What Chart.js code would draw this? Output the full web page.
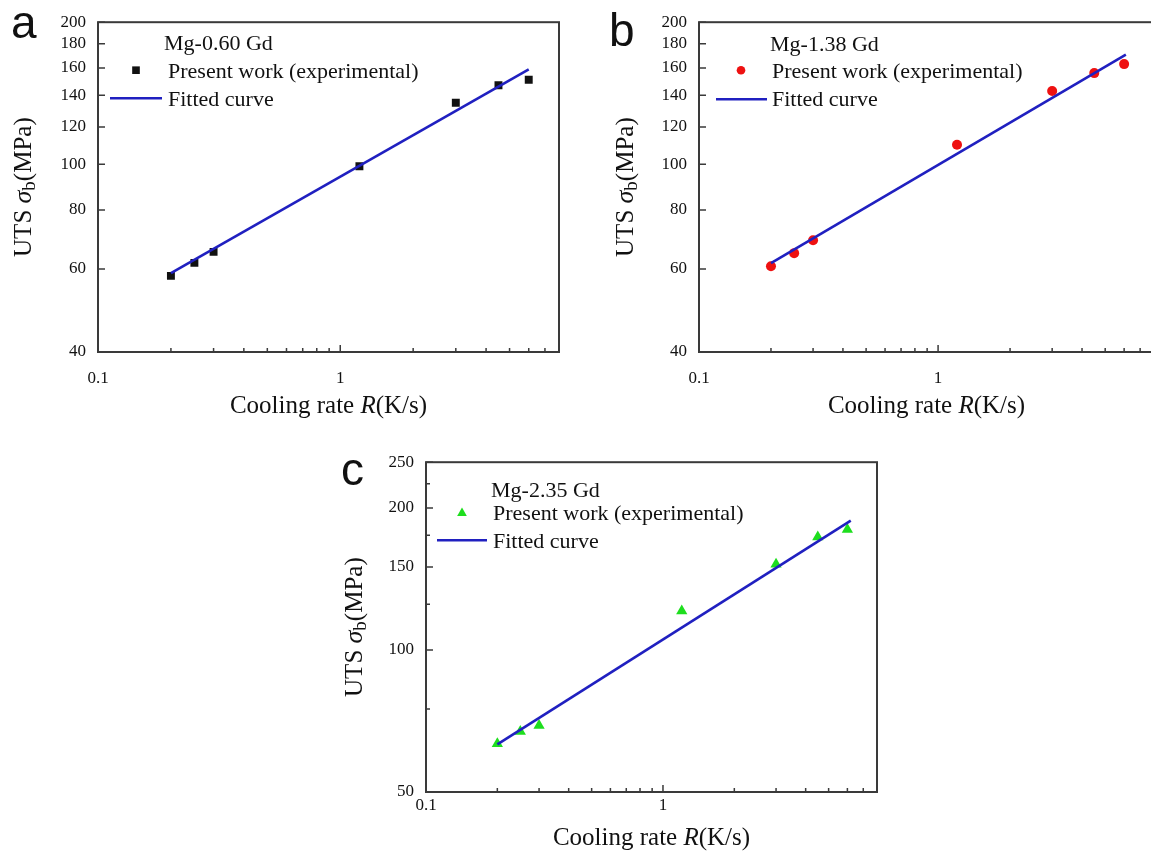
<!DOCTYPE html>
<html>
<head>
<meta charset="utf-8">
<script src="https://cdn.jsdelivr.net/npm/chart.js@4.4.1/dist/chart.umd.min.js"></script>
<style>
  html, body { margin: 0; padding: 0; background: #fff; overflow: hidden; }
  body { width: 1151px; height: 855px; position: relative; }
  canvas { position: absolute; }
</style>
</head>
<body>
<canvas id="chartA" width="575" height="425" style="left:0;top:0"></canvas>
<canvas id="chartB" width="570" height="425" style="left:600px;top:0"></canvas>
<canvas id="chartC" width="560" height="415" style="left:330px;top:440px"></canvas>
<script>
// cooling rates used for all three alloys (K/s)
const coolingRate = [0.2, 0.25, 0.3, 1.2, 3, 4.5, 6];

// measured UTS (MPa)
const utsGd060 = [58.0, 61.8, 65.2, 99.0, 135, 147, 151];
const utsGd138 = [60.8, 64.8, 69.0, 110, 143, 156, 163];
const utsGd235 = [63.3, 67.2, 69.2, 121, 152, 173.5, 180];

// fitted lines (end points)
const fitRateGd060 = [0.2, 6.0];
const fitUtsGd060 = [58.8, 158.8];
const fitRateGd138 = [0.2, 6.1];
const fitUtsGd138 = [61.7, 170.8];
const fitRateGd235 = [0.2, 6.2];
const fitUtsGd235 = [63.1, 188];

// axis ticks
const rateTicks = [0.1, 0.2, 0.3, 0.4, 0.5, 0.6, 0.7, 0.8, 0.9, 1, 2, 3, 4, 5, 6, 7, 8];
const rateLabels = [0.1, 1];
const utsTicksAB = [40, 60, 80, 100, 120, 140, 160, 180, 200];
const utsTicksC = [50, 75, 100, 125, 150, 175, 200, 225, 250];
const utsLabelsC = [50, 100, 150, 200, 250];

const SERIF = '"Liberation Serif", "Times New Roman", serif';
const SANS = '"Liberation Sans", Arial, sans-serif';
const TXT = '#111111';
const AXIS = '#3a3a3a';
const BLUE = '#2020c0';

function drawMarker(ctx, style, r, x, y) {
    ctx.beginPath();
    if (style === 'rect') {
        const s = Math.SQRT1_2 * r;
        ctx.rect(x - s, y - s, 2 * s, 2 * s);
    } else if (style === 'triangle') {
        ctx.moveTo(x, y - r);
        ctx.lineTo(x + 0.866 * r, y + r / 2);
        ctx.lineTo(x - 0.866 * r, y + r / 2);
        ctx.closePath();
    } else {
        ctx.arc(x, y, r, 0, Math.PI * 2);
    }
    ctx.fill();
}

// draws runs of text with different fonts one after another
function drawRuns(ctx, runs, x, y) {
    let w = 0;
    runs.forEach((r) => { ctx.font = r.font; w += ctx.measureText(r.text).width; });
    let cx = x - w / 2;
    runs.forEach((r) => {
        ctx.font = r.font;
        ctx.fillText(r.text, cx, y + (r.dy || 0));
        cx += ctx.measureText(r.text).width;
    });
}

// frame, inward ticks, legend, axis titles and panel letter
const panelDeco = {
    id: "panelDeco",
    afterDatasetsDraw(chart, args, o) {
        const ctx = chart.ctx;
        const a = chart.chartArea;
        const xs = chart.scales.x;
        const ys = chart.scales.y;
        ctx.save();

        ctx.strokeStyle = AXIS;
        ctx.lineWidth = 1.5;
        ctx.beginPath();
        rateTicks.forEach((v) => {
            const x = xs.getPixelForValue(v);
            const len = rateLabels.includes(v) ? 7 : 4;
            ctx.moveTo(x, a.bottom);
            ctx.lineTo(x, a.bottom - len);
        });
        o.yTicks.forEach((v) => {
            const y = ys.getPixelForValue(v);
            const len = o.yLabels.includes(v) ? 7 : 4;
            ctx.moveTo(a.left, y);
            ctx.lineTo(a.left + len, y);
        });
        ctx.stroke();

        ctx.lineWidth = 2;
        ctx.strokeRect(a.left, a.top, a.right - a.left, a.bottom - a.top);

        // legend block
        const L = o.legend;
        ctx.fillStyle = TXT;
        ctx.textBaseline = "alphabetic";
        ctx.textAlign = "left";
        ctx.font = "22px " + SERIF;
        ctx.fillText(o.alloy, a.left + L.title[0], a.top + L.title[1]);
        ctx.fillText("Present work (experimental)", a.left + L.text[0], a.top + L.text[1]);
        ctx.fillText("Fitted curve", a.left + L.fit[0], a.top + L.fit[1]);
        ctx.fillStyle = o.color;
        drawMarker(ctx, o.pointStyle, o.legendRadius, a.left + L.marker[0], a.top + L.marker[1]);
        ctx.strokeStyle = BLUE;
        ctx.lineWidth = 2.5;
        ctx.beginPath();
        ctx.moveTo(a.left + L.line[0], a.top + L.line[2]);
        ctx.lineTo(a.left + L.line[1], a.top + L.line[2]);
        ctx.stroke();

        // axis titles
        ctx.fillStyle = TXT;
        ctx.textBaseline = "middle";
        drawRuns(ctx, [
            { text: "Cooling rate ", font: "25px " + SERIF },
            { text: "R", font: "italic 25px " + SERIF },
            { text: "(K/s)", font: "25px " + SERIF },
        ], (a.left + a.right) / 2, a.bottom + o.xTitleDy);

        ctx.save();
        ctx.translate(a.left + o.yTitleDx, (a.top + a.bottom) / 2);
        ctx.rotate(-Math.PI / 2);
        drawRuns(ctx, [
            { text: "UTS ", font: "25px " + SERIF },
            { text: "\u03c3", font: "italic 26px " + SERIF },
            { text: "b", font: "19px " + SERIF, dy: 6 },
            { text: "(MPa)", font: "25px " + SERIF },
        ], 0, 0);
        ctx.restore();

        // panel letter
        ctx.textBaseline = "alphabetic";
        ctx.textAlign = "left";
        ctx.fillStyle = "#111";
        ctx.font = "46px " + SANS;
        ctx.fillText(o.letter, o.letterPos[0], o.letterPos[1]);

        ctx.restore();
    },
};

function toPoints(xs, ys) {
    return xs.map((x, i) => ({ x: x, y: ys[i] }));
}

function makePanel(id, o) {
    return new Chart(document.getElementById(id), {
        type: "scatter",
        data: {
            datasets: [
                {
                    label: "Fitted curve",
                    data: toPoints(o.fitX, o.fitY),
                    showLine: true,
                    borderColor: BLUE,
                    borderWidth: 2.6,
                    pointRadius: 0,
                    order: 0,
                },
                {
                    label: "Present work (experimental)",
                    data: toPoints(coolingRate, o.uts),
                    pointStyle: o.pointStyle,
                    pointRadius: o.radius,
                    backgroundColor: o.color,
                    borderWidth: 0,
                    order: 1,
                },
            ],
        },
        options: {
            responsive: false,
            animation: false,
            layout: { padding: o.pad },
            plugins: {
                legend: { display: false },
                tooltip: { enabled: false },
                panelDeco: o,
            },
            scales: {
                x: {
                    type: "logarithmic",
                    min: 0.1,
                    max: 8,
                    afterBuildTicks: (s) => { s.ticks = rateTicks.map((v) => ({ value: v })); },
                    afterFit: (s) => { s.height = o.xh; },
                    grid: { display: false, drawTicks: false },
                    border: { display: false },
                    ticks: {
                        autoSkip: false,
                        maxRotation: 0,
                        padding: o.xPad,
                        color: TXT,
                        font: { family: SERIF, size: 17 },
                        callback: (v) => (rateLabels.includes(v) ? String(v) : ""),
                    },
                },
                y: {
                    type: "logarithmic",
                    min: o.yMin,
                    max: o.yMax,
                    afterBuildTicks: (s) => { s.ticks = o.yTicks.map((v) => ({ value: v })); },
                    afterFit: (s) => { s.width = o.yw; },
                    grid: { display: false, drawTicks: false },
                    border: { display: false },
                    ticks: {
                        autoSkip: false,
                        padding: 12,
                        color: TXT,
                        font: { family: SERIF, size: 17 },
                        callback: (v) => (o.yLabels.includes(v) ? String(v) : ""),
                    },
                },
            },
        },
        plugins: [panelDeco],
    });
}

makePanel("chartA", {
    letter: "a", letterPos: [11, 38],
    alloy: "Mg-0.60 Gd",
    uts: utsGd060, fitX: fitRateGd060, fitY: fitUtsGd060,
    pointStyle: "rect", radius: 5.6, legendRadius: 5.4, color: "#111111",
    yMin: 40, yMax: 200, yTicks: utsTicksAB, yLabels: utsTicksAB,
    pad: { left: 0, top: 15, right: 13, bottom: 0 }, yw: 98, xh: 73, xPad: 16,
    xTitleDy: 54, yTitleDx: -74,
    legend: { title: [66, 28], text: [70, 56], fit: [70, 84], marker: [38, 48], line: [12, 64, 76] },
});

makePanel("chartB", {
    letter: "b", letterPos: [9, 46],
    alloy: "Mg-1.38 Gd",
    uts: utsGd138, fitX: fitRateGd138, fitY: fitUtsGd138,
    pointStyle: "circle", radius: 5, legendRadius: 4.3, color: "#ee1111",
    yMin: 40, yMax: 200, yTicks: utsTicksAB, yLabels: utsTicksAB,
    pad: { left: 0, top: 19, right: 10, bottom: 0 }, yw: 99, xh: 73, xPad: 16,
    xTitleDy: 54, yTitleDx: -73,
    legend: { title: [71, 29], text: [73, 56], fit: [73, 84], marker: [42, 48], line: [17, 68, 77] },
});

makePanel("chartC", {
    letter: "c", letterPos: [11, 45],
    alloy: "Mg-2.35 Gd",
    uts: utsGd235, fitX: fitRateGd235, fitY: fitUtsGd235,
    pointStyle: "triangle", radius: 6.5, legendRadius: 5.6, color: "#1ede1e",
    yMin: 50, yMax: 250, yTicks: utsTicksC, yLabels: utsLabelsC,
    pad: { left: 0, top: 22, right: 13, bottom: 0 }, yw: 96, xh: 63, xPad: 3,
    xTitleDy: 46, yTitleDx: -71,
    legend: { title: [65, 35], text: [67, 58], fit: [67, 86], marker: [36, 51], line: [11, 61, 78] },
});
</script>
</body>
</html>
